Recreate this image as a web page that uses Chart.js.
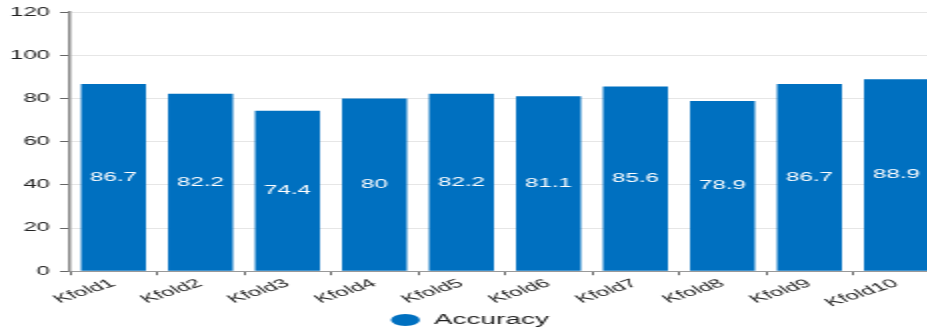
<!DOCTYPE html>
<html>
<head>
<meta charset="utf-8">
<script src="https://cdn.jsdelivr.net/npm/chart.js@4"></script>
<style>
  html, body { margin: 0; padding: 0; background: #fff; overflow: hidden; }
  /* the reference is stretched horizontally ~2x, so draw at half width and scale */
  #wrap { width: 470px; height: 327px; transform: scaleX(2); transform-origin: 0 0; }
</style>
</head>
<body>
<div id="wrap"><canvas id="accChart"></canvas></div>
<script>
const folds = ["Kfold1", "Kfold2", "Kfold3", "Kfold4", "Kfold5", "Kfold6", "Kfold7", "Kfold8", "Kfold9", "Kfold10"];
const accuracy = [86.7, 82.2, 74.4, 80, 82.2, 81.1, 85.6, 78.9, 86.7, 88.9];
const yTicks = [0, 20, 40, 60, 80, 100, 120];

const fontFamily = "'Liberation Sans', Arial, sans-serif";

// white value labels in the middle of each bar
const barLabels = {
  id: "barLabels",
  afterDatasetsDraw(chart) {
    const ctx = chart.ctx;
    const meta = chart.getDatasetMeta(0);
    ctx.save();
    ctx.fillStyle = "#ffffff";
    ctx.font = "12px " + fontFamily;
    ctx.textAlign = "center";
    ctx.textBaseline = "middle";
    meta.data.forEach((bar, i) => {
      ctx.fillText(String(accuracy[i]), bar.x, (bar.y + bar.base) / 2);
    });
    ctx.restore();
  }
};

new Chart(document.getElementById("accChart"), {
  type: "bar",
  data: {
    labels: folds,
    datasets: [{
      label: "Accuracy",
      data: accuracy,
      backgroundColor: "#0070c0",
      borderWidth: 0,
      barPercentage: 0.9,
      categoryPercentage: 0.83
    }]
  },
  options: {
    responsive: true,
    maintainAspectRatio: false,
    animation: false,
    layout: { padding: { top: 9, left: 0, right: 0, bottom: -10 } },
    plugins: {
      tooltip: { enabled: false },
      legend: {
        position: "bottom",
        labels: {
          usePointStyle: true,
          pointStyle: "circle",
          pointStyleWidth: 14.5,
          boxHeight: 8.5,
          padding: 2,
          color: "#222",
          font: { family: fontFamily, size: 14 }
        }
      }
    },
    scales: {
      x: {
        grid: { drawOnChartArea: false, drawTicks: true, tickLength: 4, color: "#666", offset: true },
        border: { display: true, color: "#999", width: 1 },
        ticks: {
          minRotation: 32,
          maxRotation: 32,
          autoSkip: false,
          padding: 1,
          color: "#222",
          font: { family: fontFamily, size: 12 }
        }
      },
      y: {
        min: 0,
        max: 120,
        afterBuildTicks: (axis) => { axis.ticks = yTicks.map((v) => ({ value: v })); },
        grid: { color: "#e6e6e6", tickColor: "#666", tickLength: 5 },
        border: { display: true, color: "#888", width: 1.5 },
        ticks: {
          padding: 5,
          color: "#222",
          font: { family: fontFamily, size: 12 }
        }
      }
    }
  },
  plugins: [barLabels]
});
</script>
</body>
</html>
